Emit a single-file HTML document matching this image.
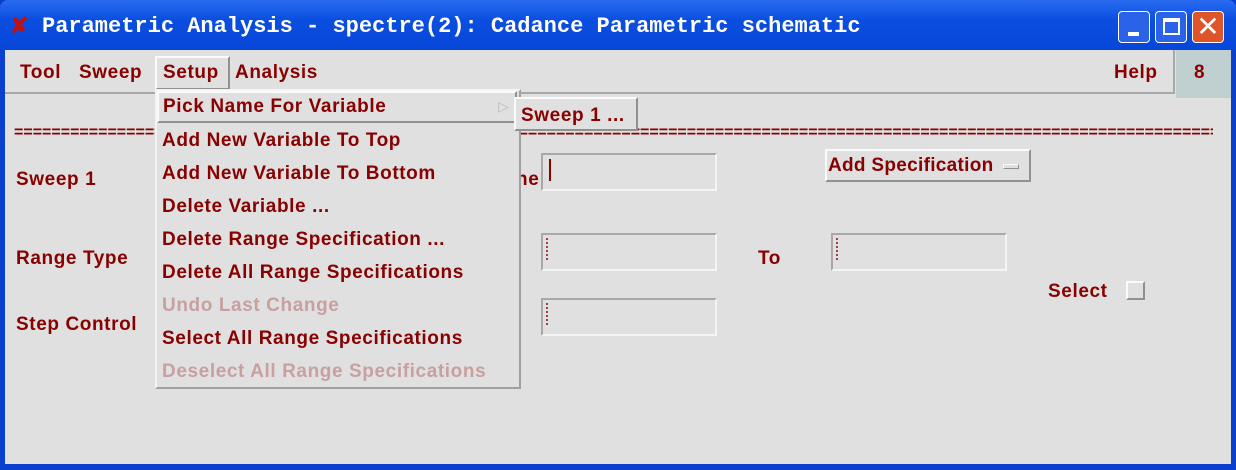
<!DOCTYPE html>
<html><head><style>
*{margin:0;padding:0;box-sizing:border-box}
body{width:1236px;height:470px;background:#0a3fd0;position:relative;overflow:hidden;font-family:"Liberation Sans",sans-serif}
.abs{position:absolute}
.t{position:absolute;color:#880000;font-weight:bold;font-size:19px;white-space:nowrap;line-height:20px;letter-spacing:0.6px}
.dis{color:#c9a0a0}
.field{position:absolute;background:#e0e0e0;border:2px solid #a8a8a8;border-right-color:#f4f4f4;border-bottom-color:#f4f4f4}
.cur{position:absolute;left:3px;top:3px;width:2px;height:22px;border-left:2px dotted #a04040}
.btn{position:absolute;background:#e0e0e0;border:2px solid #fafafa;border-right-color:#909090;border-bottom-color:#909090}
</style></head><body>
<div class="abs" style="left:0;top:0;width:1236px;height:50px;background:linear-gradient(#2a6cf0,#0a4ee0 40%,#0646d8);border-radius:8px 8px 0 0"></div>
<div class="t" style="left:10px;top:16px;color:#c01010;font-size:22px">✘</div>
<div class="t" style="left:42px;top:17px;color:#fff;font-family:'Liberation Mono',monospace;font-size:22px;letter-spacing:0">Parametric Analysis - spectre(2): Cadance Parametric schematic</div>
<div class="abs" style="left:1118px;top:11px;width:32px;height:32px;border:1px solid #fff;border-radius:4px;background:#2a63e8"><div class="abs" style="left:9px;top:20px;width:11px;height:4px;background:#fff"></div></div>
<div class="abs" style="left:1155px;top:11px;width:32px;height:32px;border:1px solid #fff;border-radius:4px;background:#2a63e8"><div class="abs" style="left:7px;top:6px;width:17px;height:17px;border:2px solid #fff;border-top-width:4px"></div></div>
<div class="abs" style="left:1192px;top:11px;width:32px;height:32px;border:1px solid #fff;border-radius:4px;background:#e0542a;color:#fff;font-size:28px;line-height:30px;text-align:center">✕</div>
<div class="abs" style="left:5px;top:50px;width:1226px;height:414px;background:#e0e0e0"></div>
<div class="abs" style="left:5px;top:50px;width:1170px;height:44px;border-bottom:2px solid #a8a8a8;border-right:2px solid #a8a8a8"></div>
<div class="abs" style="left:1176px;top:50px;width:55px;height:48px;background:#c0d0d0"></div>
<div class="t" style="left:1194px;top:63px">8</div>
<div class="t" style="left:20px;top:63px">Tool</div>
<div class="t" style="left:79px;top:63px">Sweep</div>
<div class="btn" style="left:155px;top:56px;width:75px;height:34px"></div>
<div class="t" style="left:163px;top:63px">Setup</div>
<div class="t" style="left:235px;top:63px">Analysis</div>
<div class="t" style="left:1114px;top:63px">Help</div>
<div class="t" style="left:14px;top:123px;font-size:16px;overflow:hidden;width:1199px;letter-spacing:0px">==================================================================================================================================================================================</div>
<div class="t" style="left:16px;top:170px">Sweep 1</div>
<div class="t" style="left:16px;top:249px">Range Type</div>
<div class="t" style="left:16px;top:315px">Step Control</div>
<div class="t" style="left:516px;top:170px">ne</div>
<div class="t" style="left:758px;top:249px">To</div>
<div class="t" style="left:1048px;top:282px">Select</div>
<div class="field" style="left:541px;top:153px;width:176px;height:38px"><div class="abs" style="left:6px;top:4px;width:6px;height:22px;border-left:2px solid #880000"></div></div>
<div class="field" style="left:541px;top:233px;width:176px;height:38px"><div class="cur"></div></div>
<div class="field" style="left:831px;top:233px;width:176px;height:38px"><div class="cur"></div></div>
<div class="field" style="left:541px;top:298px;width:176px;height:38px"><div class="cur"></div></div>
<div class="btn" style="left:825px;top:149px;width:206px;height:33px"></div>
<div class="t" style="left:828px;top:156px;letter-spacing:0.3px">Add Specification</div>
<div class="abs" style="left:1003px;top:164px;width:16px;height:5px;border:1px solid #fafafa;border-right-color:#909090;border-bottom-color:#909090"></div>
<div class="abs" style="left:1126px;top:281px;width:19px;height:19px;border:2px solid #fafafa;border-right-color:#909090;border-bottom-color:#909090"></div>
<div class="abs" style="left:155px;top:89px;width:366px;height:300px;background:#e0e0e0;border:2px solid #f4f4f4;border-right-color:#a0a0a0;border-bottom-color:#a0a0a0"></div>
<div class="btn" style="left:157px;top:91px;width:360px;height:32px"></div>
<div class="t" style="left:498px;top:96px;color:#bbb;font-size:14px;font-weight:normal">▷</div>
<div class="t" style="left:163px;top:97px">Pick Name For Variable</div>
<div class="t" style="left:162px;top:131px">Add New Variable To Top</div>
<div class="t" style="left:162px;top:164px">Add New Variable To Bottom</div>
<div class="t" style="left:162px;top:197px">Delete Variable ...</div>
<div class="t" style="left:162px;top:230px">Delete Range Specification ...</div>
<div class="t" style="left:162px;top:263px">Delete All Range Specifications</div>
<div class="t dis" style="left:162px;top:296px">Undo Last Change</div>
<div class="t" style="left:162px;top:329px">Select All Range Specifications</div>
<div class="t dis" style="left:162px;top:362px">Deselect All Range Specifications</div>
<div class="btn" style="left:514px;top:97px;width:124px;height:34px"></div>
<div class="t" style="left:521px;top:106px">Sweep 1 ...</div>
</body></html>
